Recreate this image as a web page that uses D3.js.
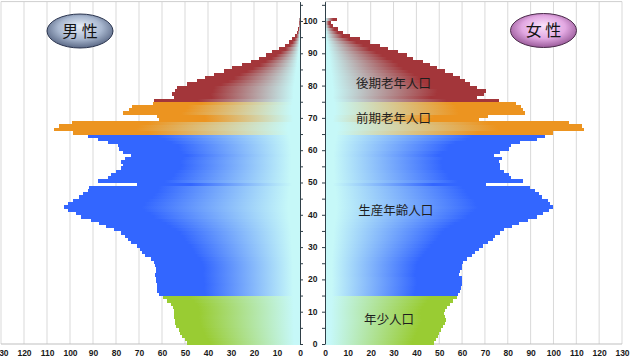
<!DOCTYPE html>
<html><head><meta charset="utf-8">
<script src="https://cdn.jsdelivr.net/npm/d3@7"></script>
<style>html,body{margin:0;padding:0;background:#fff;} svg{display:block}</style>
</head><body><svg id="c" width="630" height="359"></svg>
<script>
// ---- data (population by single age, 10k persons) ----
const ages = d3.range(0, 101);
const male = [49.1,50.1,51.3,52,52.7,53.8,54.2,54.5,54.9,54.6,
  54.9,55.2,56.1,57.8,59.7,61.5,62,62.3,62,62.5,
  62.5,62.9,62.7,62.5,62.9,63.6,65,67.3,68.7,69.5,
  70.9,73.5,75,76,78,81,84.3,87.2,90.8,95.2,
  97.4,101,102.5,101,98.8,95.9,94.5,92.3,91.6,70.8,
  87.9,83.6,82,80,77.8,77,77.8,76.3,73.4,77,
  78.5,79.2,83.6,87.9,92.3,98.5,107,105,99,61.5,
  62,77,74.5,73,64,63.5,54.9,55.6,54.2,53.5,
  49.1,44.7,41.1,37.5,33.1,29.5,25.1,21.5,17.8,14.9,
  12,9.1,6.6,4.8,3.4,2.3,1.5,0.9,0.6,0.4,0.6];
const female = [47.7,48.6,49.3,50.1,50.7,51.5,52.4,53,52.6,52.1,
  52.6,53.3,54.7,56.2,57.7,58.4,59,59.5,60,60.1,
  59.9,58.7,59.3,59.9,59.9,60.6,62,64.2,65.7,67.2,
  69.3,71.5,73.5,74.5,76.5,78.5,82,85,89,93,
  95.5,98,100,98.6,97.8,95,93.5,92,89.9,70.5,
  86.7,81.2,80.4,78.3,76.7,76.7,76,77.4,74,76.5,
  80.4,81.2,85.5,92.8,96.4,100,113.5,112.5,107,67.5,
  71.5,87.5,86.8,86,83.8,76,66.4,69.8,70.5,66.4,
  63.5,61.3,59,56,52.5,49,46,43,38.7,35.8,
  32.1,27.7,24,19.7,15.3,11,8,5.8,3.6,2.5,5.1];
const groupNames = ["年少人口","生産年齢人口","前期老年人口","後期老年人口"];
const groupStart = [0, 15, 65, 75];
const groupColors = ["#99cc33","#3366ff","#ec9420","#a3363a"];
const groupLabelPos = [[28,7.7],[31,41.2],[30,69.8],[30,80.8]]; // [value, age]
const ageTicks = d3.range(0, 101, 10);
const ageMinorTicks = d3.range(0, 106, 5);
const valueTicks = d3.range(0, 131, 10);
const sexLabels = ["男 性","女 性"];

// ---- layout ----
const svg = d3.select("#c");
const xL = d3.scaleLinear().domain([0,130]).range([300, 1]);
const xR = d3.scaleLinear().domain([0,130]).range([325, 622]);
const y = d3.scaleLinear().domain([0,106]).range([344, 1.6]);
const groupOf = a => d3.bisectRight(groupStart, a) - 1;
const cyan = "#c6f8f8";
const solidTo = [0.2, 0.33, 0.33, 0.3];

const defs = svg.append("defs");
groupColors.forEach((c,i)=>{
  ["L","R"].forEach(side=>{
    const g = defs.append("linearGradient").attr("id","g"+side+i)
      .attr("x1", side==="L"?0:1).attr("x2", side==="L"?1:0).attr("y1",0).attr("y2",0);
    g.append("stop").attr("offset",0).attr("stop-color",c);
    g.append("stop").attr("offset",solidTo[i]).attr("stop-color",c);
    g.append("stop").attr("offset",0.95).attr("stop-color",cyan);
    g.append("stop").attr("offset",1).attr("stop-color",cyan);
  });
});
const rg1 = defs.append("radialGradient").attr("id","eM").attr("cx","50%").attr("cy","45%").attr("r","60%").attr("fx","50%").attr("fy","35%");
rg1.append("stop").attr("offset",0).attr("stop-color","#e6edf7");
rg1.append("stop").attr("offset",0.55).attr("stop-color","#a9b8d0");
rg1.append("stop").attr("offset",1).attr("stop-color","#4c5a78");
const rg2 = defs.append("radialGradient").attr("id","eF").attr("cx","50%").attr("cy","45%").attr("r","60%").attr("fx","50%").attr("fy","35%");
rg2.append("stop").attr("offset",0).attr("stop-color","#fbe2fb");
rg2.append("stop").attr("offset",0.55).attr("stop-color","#e2a8e2");
rg2.append("stop").attr("offset",1).attr("stop-color","#8c4c8c");

// panels: grid + frame
[[xL,"L"],[xR,"R"]].forEach(([x,side])=>{
  const g = svg.append("g");
  g.selectAll("line").data(valueTicks.filter(v=>v>0)).enter().append("line")
    .attr("x1",d=>x(d)).attr("x2",d=>x(d)).attr("y1",y(106)).attr("y2",y(0))
    .attr("stroke","#d9d9d9").attr("stroke-width",1);
  g.append("line").attr("x1",x(0)).attr("x2",x(130)).attr("y1",y(106)).attr("y2",y(106)).attr("stroke","#cfcfcf");
  g.append("line").attr("x1",x(0)).attr("x2",x(130)).attr("y1",y(0)).attr("y2",y(0)).attr("stroke","#bfbfbf");
});

// bars
function bars(data, x, side){
  svg.append("g").attr("shape-rendering","crispEdges").selectAll("rect").data(ages).enter().append("rect")
    .attr("x", a => side==="L" ? x(data[a]) : x(0))
    .attr("width", a => Math.abs(x(data[a]) - x(0)))
    .attr("y", a => y(a+1))
    .attr("height", a => y(a) - y(a+1) + 0.5)
    .attr("fill", a => `url(#g${side}${groupOf(a)})`);
}
bars(male, xL, "L");
bars(female, xR, "R");

// value axes (bottom labels)
[[xL],[xR]].forEach(([x])=>{
  const ax = d3.axisBottom(x).tickValues(valueTicks).tickSize(0).tickPadding(6).tickFormat(d3.format("d"));
  const g = svg.append("g").attr("transform",`translate(0,${y(0)})`).call(ax);
  g.select(".domain").remove();
  g.selectAll("text").attr("font-family","Liberation Sans, Arial, sans-serif")
    .attr("font-size","8.5px").attr("font-weight","bold").attr("fill","#1a1a1a");
});

// age axes
const axColor = "#2f3f48";
const aL = svg.append("g").attr("transform",`translate(${xL(0)},0)`)
  .call(d3.axisRight(y).tickValues(ageMinorTicks).tickSize(3).tickSizeOuter(0).tickFormat(""));
const aR = svg.append("g").attr("transform",`translate(${xR(0)},0)`)
  .call(d3.axisLeft(y).tickValues(ageMinorTicks).tickSize(3).tickSizeOuter(0).tickFormat(""));
[aL,aR].forEach(g=>{ g.selectAll("path,line").attr("stroke",axColor); });
svg.append("g").selectAll("text").data(ageTicks).enter().append("text")
  .attr("x",317.5).attr("y",d=>y(d)).attr("dy","0.35em").attr("text-anchor","end")
  .attr("font-family","Liberation Sans, Arial, sans-serif").attr("font-size","8.5px")
  .attr("font-weight","bold").attr("fill","#1a1a1a").text(d=>d);

// group labels
svg.append("g").selectAll("text").data(groupNames).enter().append("text")
  .attr("x",(d,i)=>xR(groupLabelPos[i][0])).attr("y",(d,i)=>y(groupLabelPos[i][1]))
  .attr("dy","0.36em").attr("text-anchor","middle")
  .attr("font-family","Noto Sans CJK JP, sans-serif").attr("font-size","12.5px")
  .attr("fill","#1e1e1e").text(d=>d);

// sex ellipses
const ell = [{cx:80,cy:31,fill:"url(#eM)",stroke:"#2c3650"},{cx:543.5,cy:30.5,fill:"url(#eF)",stroke:"#4c2c4c"}];
ell.forEach((e,i)=>{
  svg.append("ellipse").attr("cx",e.cx).attr("cy",e.cy).attr("rx",33).attr("ry",17)
    .attr("fill",e.fill).attr("stroke",e.stroke).attr("stroke-width",1);
  svg.append("text").attr("x",e.cx).attr("y",e.cy).attr("dy","0.36em").attr("text-anchor","middle")
    .attr("font-family","Noto Sans CJK JP, sans-serif").attr("font-size","16px")
    .attr("fill","#141414").text(sexLabels[i]);
});
</script></body></html>
